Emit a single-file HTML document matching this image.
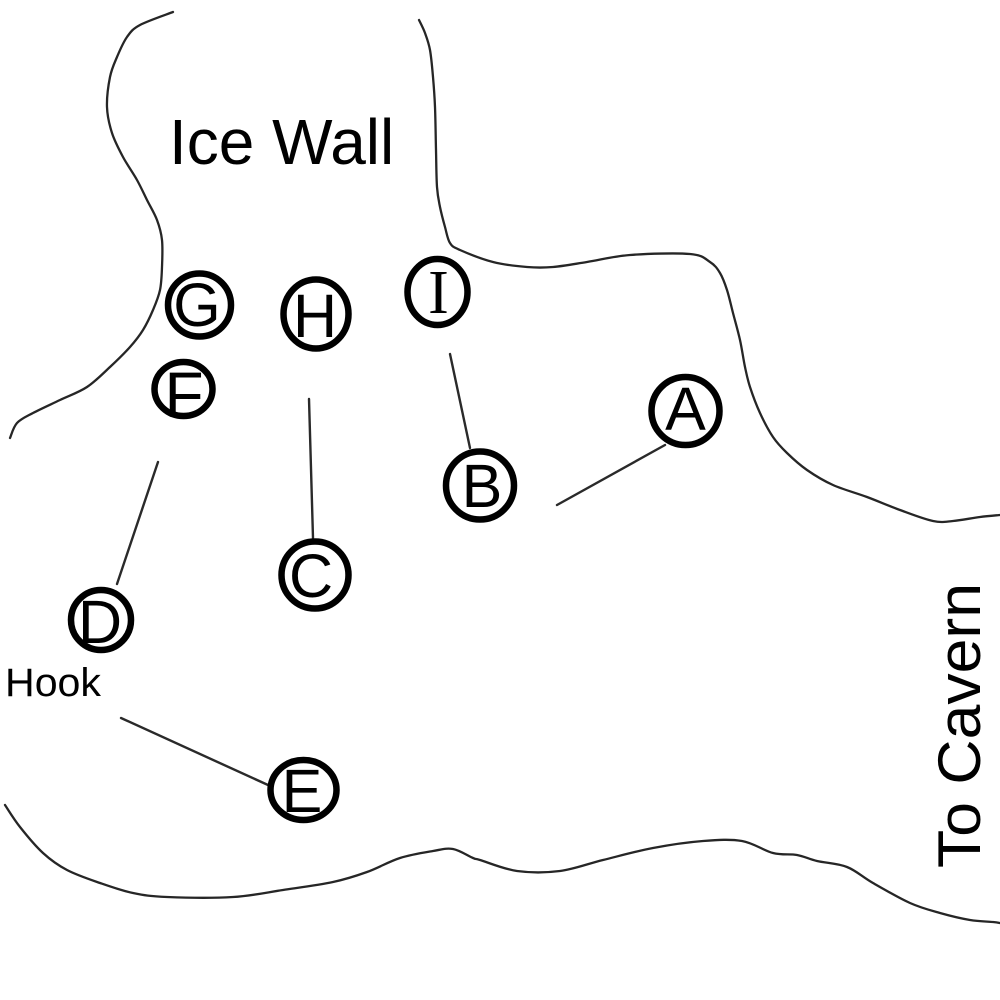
<!DOCTYPE html>
<html>
<head>
<meta charset="utf-8">
<style>
html,body{margin:0;padding:0;background:#fff;}
svg{display:block;}
</style>
</head>
<body>
<svg id="s" width="1000" height="1000" viewBox="0 0 1000 1000" xmlns="http://www.w3.org/2000/svg">
<rect width="1000" height="1000" fill="#fff"/>
<g id="curves" fill="none" stroke="#262626" stroke-width="2.3" stroke-linejoin="round" stroke-linecap="round">
<polyline class="c" points="173,12 140,25 127,37 117,57 110,77 107,107 112,133 123,157 137,180 147,200 157,220 162,240 162,267 160,290 153,310 143,330 130,347 110,367 87,387 60,400 33,413 17,423 10,438"/>
<polyline class="c" points="419,20 425,33 430,50 433,77 435,107 436,150 437,187 440,207 445,227 450,243 460,250 493,262 527,267 553,267 587,262 630,255 690,254 710,262 720,273 727,290 733,313 740,340 745,367 750,387 760,413 773,437 787,453 807,470 833,485 867,497 900,510 933,521 953,521 980,517 1000,515"/>
<polyline class="c" points="5,805 20,827 43,853 67,870 100,883 133,893 167,897 233,897 283,890 333,882 367,872 400,858 433,851 453,849 473,858 480,860 517,871 560,871 603,860 653,848 703,841 742,841 773,853 797,855 817,861 847,867 873,883 910,903 940,913 970,920 993,922 1000,923"/>
</g>
<g stroke="#2a2a2a" stroke-width="2.4" stroke-linecap="round">
<line x1="450" y1="354" x2="470" y2="448"/>
<line x1="557" y1="505" x2="665" y2="445"/>
<line x1="309" y1="399" x2="313" y2="538"/>
<line x1="158" y1="462" x2="117" y2="584"/>
<line x1="121" y1="718" x2="268" y2="785"/>
</g>
<g fill="none" stroke="#000" stroke-width="6.5">
<ellipse cx="199.5" cy="305" rx="31.5" ry="31.5"/>
<ellipse cx="316" cy="314" rx="32.5" ry="34.5"/>
<ellipse cx="437.5" cy="292" rx="30" ry="33"/>
<ellipse cx="183.5" cy="389" rx="29" ry="27"/>
<ellipse cx="685.5" cy="411" rx="34" ry="34"/>
<ellipse cx="480" cy="485.5" rx="34" ry="34"/>
<ellipse cx="315" cy="575" rx="33.5" ry="33.5"/>
<ellipse cx="101" cy="620" rx="30" ry="30"/>
<ellipse cx="303.5" cy="790" rx="33" ry="30"/>
</g>
<g font-family="'Liberation Sans', sans-serif" font-size="61" fill="#000" text-anchor="middle">
<text x="685.5" y="430">A</text>
<text x="482" y="507">B</text>
<text x="311" y="597">C</text>
<text x="100" y="643">D</text>
<text x="302" y="812">E</text>
<text x="184" y="417" font-size="64">F</text>
<text x="197" y="326">G</text>
<text x="315" y="337">H</text>
<text x="438.5" y="313" font-family="'Liberation Serif', serif" font-size="62">I</text>
</g>
<text x="169" y="164" font-family="'Liberation Sans', sans-serif" font-size="64" fill="#000">Ice Wall</text>
<text x="5" y="696" font-family="'Liberation Sans', sans-serif" font-size="40" fill="#000" textLength="96" lengthAdjust="spacingAndGlyphs">Hook</text>
<text transform="translate(980,868) rotate(-90)" x="0" y="0" font-family="'Liberation Sans', sans-serif" font-size="60" fill="#000" textLength="285" lengthAdjust="spacingAndGlyphs">To Cavern</text>
</svg>
<script>
(function(){
  try{
    var NS="http://www.w3.org/2000/svg";
    var g=document.getElementById("curves");
    var pls=g.querySelectorAll("polyline.c");
    for(var k=0;k<pls.length;k++){
      var pl=pls[k];
      var raw=pl.getAttribute("points").trim().split(/\s+/);
      var p=raw.map(function(s){var a=s.split(",");return [parseFloat(a[0]),parseFloat(a[1])];});
      var d="M"+p[0][0]+","+p[0][1];
      for(var i=0;i<p.length-1;i++){
        var p0=p[i>0?i-1:i],p1=p[i],p2=p[i+1],p3=p[i+2<p.length?i+2:i+1];
        var c1x=p1[0]+(p2[0]-p0[0])/6,c1y=p1[1]+(p2[1]-p0[1])/6;
        var c2x=p2[0]-(p3[0]-p1[0])/6,c2y=p2[1]-(p3[1]-p1[1])/6;
        d+=" C"+c1x.toFixed(2)+","+c1y.toFixed(2)+" "+c2x.toFixed(2)+","+c2y.toFixed(2)+" "+p2[0]+","+p2[1];
      }
      var path=document.createElementNS(NS,"path");
      path.setAttribute("d",d);
      g.insertBefore(path,pl);
      pl.setAttribute("visibility","hidden");
    }
  }catch(e){}
})();
</script>
</body>
</html>
